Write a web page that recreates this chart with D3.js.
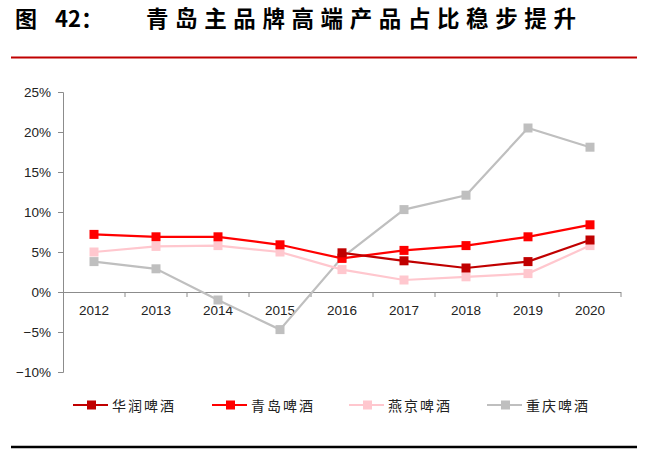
<!DOCTYPE html>
<html>
<head>
<meta charset="utf-8">
<script src="https://cdn.jsdelivr.net/npm/d3@7"></script>
<style>
  body { margin: 0; background: #fff; }
  svg { display: block; }
</style>
</head>
<body>
<svg width="651" height="452"></svg>
<script>
// data
var years = ['2012', '2013', '2014', '2015', '2016', '2017', '2018', '2019', '2020'];
var huarun = [null, null, null, null, 4.9, 3.9, 3.0, 3.8, 6.5];
var qingdao = [7.2, 6.9, 6.9, 5.9, 4.2, 5.2, 5.8, 6.9, 8.4];
var yanjing = [5.0, 5.7, 5.8, 5.0, 2.8, 1.5, 1.9, 2.3, 5.8];
var chongqing = [3.8, 2.9, -1.0, -4.7, 4.3, 10.3, 12.1, 20.5, 18.1];
var yTicks = [25, 20, 15, 10, 5, 0, -5, -10];

var series = [
  {name: '华润啤酒', values: huarun, color: '#C00000'},
  {name: '青岛啤酒', values: qingdao, color: '#FF0000'},
  {name: '燕京啤酒', values: yanjing, color: '#FFC7CE'},
  {name: '重庆啤酒', values: chongqing, color: '#BFBFBF'}
];

var svg = d3.select('svg');
var font = 'Arial, "Liberation Sans", sans-serif';
var cjk = '"Noto Sans CJK SC", sans-serif';

// title
svg.append('text')
  .attr('x', 15).attr('y', 27)
  .style('font-family', cjk).style('font-size', '22px').style('font-weight', 'bold')
  .text('图');
svg.append('text')
  .attr('x', 55).attr('y', 27)
  .style('font-family', cjk).style('font-size', '22px').style('font-weight', 'bold')
  .text('42：');
svg.append('text')
  .attr('x', 146).attr('y', 27)
  .style('font-family', cjk).style('font-size', '22.5px').style('font-weight', 'bold')
  .style('letter-spacing', '6.6px')
  .text('青岛主品牌高端产品占比稳步提升');

svg.append('line')
  .attr('x1', 11).attr('x2', 637).attr('y1', 57.5).attr('y2', 57.5)
  .attr('stroke', '#C00000').attr('stroke-width', 2);
svg.append('line')
  .attr('x1', 11).attr('x2', 637).attr('y1', 447).attr('y2', 447)
  .attr('stroke', '#000').attr('stroke-width', 2.5);

var x = d3.scaleBand().domain(years).range([63, 621]);
var y = d3.scaleLinear().domain([-10, 25]).range([372, 92]);

// y axis
var yAxis = svg.append('g')
  .attr('transform', 'translate(63,0)')
  .call(d3.axisLeft(y).tickValues(yTicks).tickSize(5).tickPadding(7)
    .tickFormat(function (d) { return (d < 0 ? '\u2212' + (-d) : d) + '%'; }));
yAxis.select('.domain').attr('stroke', '#8c8c8c');
yAxis.selectAll('.tick line').attr('stroke', '#8c8c8c');
yAxis.selectAll('text').style('font-family', font).style('font-size', '13.5px').attr('fill', '#222');

// x axis at 0
var xAxis = svg.append('g')
  .attr('transform', 'translate(0,' + y(0) + ')')
  .call(d3.axisBottom(x).tickSize(0).tickPadding(13));
xAxis.select('.domain').attr('stroke', '#8c8c8c').attr('d', 'M63,0.5H621');
xAxis.selectAll('text').style('font-family', font).style('font-size', '13.5px').attr('fill', '#222');
xAxis.selectAll('.boundary')
  .data(years)
  .enter()
  .append('line')
  .attr('x1', d => x(d) + x.bandwidth())
  .attr('x2', d => x(d) + x.bandwidth())
  .attr('y1', 0).attr('y2', 5)
  .attr('stroke', '#8c8c8c');

var line = d3.line()
  .defined(d => d.v !== null)
  .x(d => x(d.year) + x.bandwidth() / 2)
  .y(d => y(d.v));

// draw back to front so the red lines sit on top
series.slice().reverse().forEach(function (s) {
  var pts = s.values.map(function (v, i) { return {year: years[i], v: v}; });
  svg.append('path')
    .datum(pts)
    .attr('d', line)
    .attr('fill', 'none')
    .attr('stroke', s.color)
    .attr('stroke-width', 2.2);
  svg.selectAll('.m')
    .data(pts.filter(d => d.v !== null))
    .enter()
    .append('rect')
    .attr('x', d => x(d.year) + x.bandwidth() / 2 - 4.5)
    .attr('y', d => y(d.v) - 4.5)
    .attr('width', 9).attr('height', 9)
    .attr('fill', s.color);
});

// legend
var legendX = [73, 212, 349, 487];
series.forEach(function (s, i) {
  var g = svg.append('g').attr('transform', 'translate(' + legendX[i] + ',405)');
  g.append('line').attr('x1', 0).attr('x2', 35).attr('y1', 0).attr('y2', 0)
    .attr('stroke', s.color).attr('stroke-width', 2.2);
  g.append('rect').attr('x', 14).attr('y', -4.5).attr('width', 9).attr('height', 9)
    .attr('fill', s.color);
  g.append('text').attr('x', 39).attr('y', 5.5)
    .style('font-family', cjk).style('font-size', '14px').attr('fill', '#222')
    .style('letter-spacing', '2px')
    .text(s.name);
});
</script>
</body>
</html>
